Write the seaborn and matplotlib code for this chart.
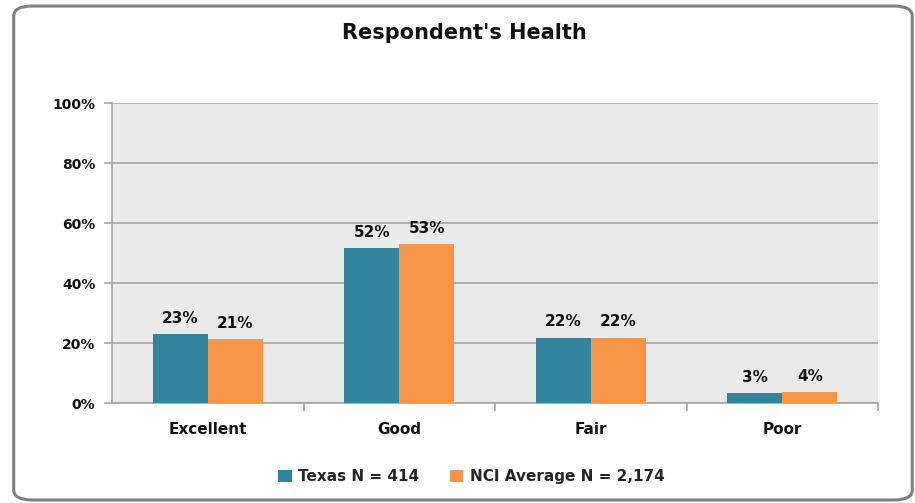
import pandas as pd
import seaborn as sns
import matplotlib.pyplot as plt
from matplotlib.patches import FancyBboxPatch
from matplotlib.ticker import PercentFormatter, FixedLocator

# Chart data
categories = ["Excellent", "Good", "Fair", "Poor"]
texas = [0.23, 0.517, 0.218, 0.033]
nci = [0.213, 0.53, 0.218, 0.036]
series_names = ["Texas N = 414", "NCI Average N = 2,174"]
colors = ["#31849B", "#F79646"]

df = pd.DataFrame({
    "category": categories * 2,
    "series": [series_names[0]] * 4 + [series_names[1]] * 4,
    "value": texas + nci,
})

sns.set_theme(style="white")
plt.rcParams["font.family"] = ["DejaVu Sans"]

fig = plt.figure(figsize=(9.15, 5.03), dpi=100)
ax = fig.add_axes([0.1224, 0.1988, 0.8372, 0.5964])

sns.barplot(data=df, x="category", y="value", hue="series", order=categories,
            hue_order=series_names, palette=colors, width=0.575,
            saturation=1, linewidth=0, ax=ax, zorder=3)

ax.set_facecolor("#EAEAEA")
ax.set_ylim(0, 1)
ax.set_xlim(-0.5, len(categories) - 0.5)
ax.yaxis.set_major_formatter(PercentFormatter(1.0, decimals=0))
ax.set_yticks([0, 0.2, 0.4, 0.6, 0.8, 1.0])
ax.grid(axis="y", color="#A6A6A6", linewidth=1.2, zorder=0)
ax.set_axisbelow(True)

for side in ["top", "right"]:
    ax.spines[side].set_visible(False)
for side in ["left", "bottom"]:
    ax.spines[side].set_color("#A6A6A6")
    ax.spines[side].set_linewidth(1.2)

ax.tick_params(axis="y", which="major", left=True, length=6, width=1.2,
               color="#A6A6A6", labelsize=10, pad=6)
ax.tick_params(axis="x", which="major", bottom=False, labelsize=11, pad=8)
ax.xaxis.set_minor_locator(FixedLocator([0.5, 1.5, 2.5, 3.5]))
ax.tick_params(axis="x", which="minor", bottom=True, length=6, width=1.2,
               color="#A6A6A6")
for lbl in ax.get_xticklabels() + ax.get_yticklabels():
    lbl.set_fontweight("bold")
    lbl.set_color("#111111")

ax.set_xlabel("")
ax.set_ylabel("")

# value labels
for cont in ax.containers:
    ax.bar_label(cont, labels=[f"{v * 100:.0f}%" for v in cont.datavalues],
                 padding=6, fontsize=11, fontweight="bold", color="#111111")

# legend at bottom
handles, labels = ax.get_legend_handles_labels()
ax.legend_.remove()
fig.legend(handles, labels, loc="center", bbox_to_anchor=(0.515, 0.052),
           ncol=2, frameon=False, prop={"weight": "bold", "size": 11},
           handlelength=0.9, handleheight=0.9, columnspacing=2.0, handletextpad=0.4)

fig.text(0.507, 0.934, "Respondent's Health", ha="center", va="center",
         fontsize=15, fontweight="bold", color="#111111")

# rounded chart border
border = FancyBboxPatch((0.015, 0.006), 0.982, 0.982, transform=fig.transFigure,
                        boxstyle="round,pad=0,rounding_size=0.02",
                        facecolor="none", edgecolor="#7F7F7F", linewidth=2.2)
fig.patches.append(border)

fig.savefig("out.png", dpi=100)
